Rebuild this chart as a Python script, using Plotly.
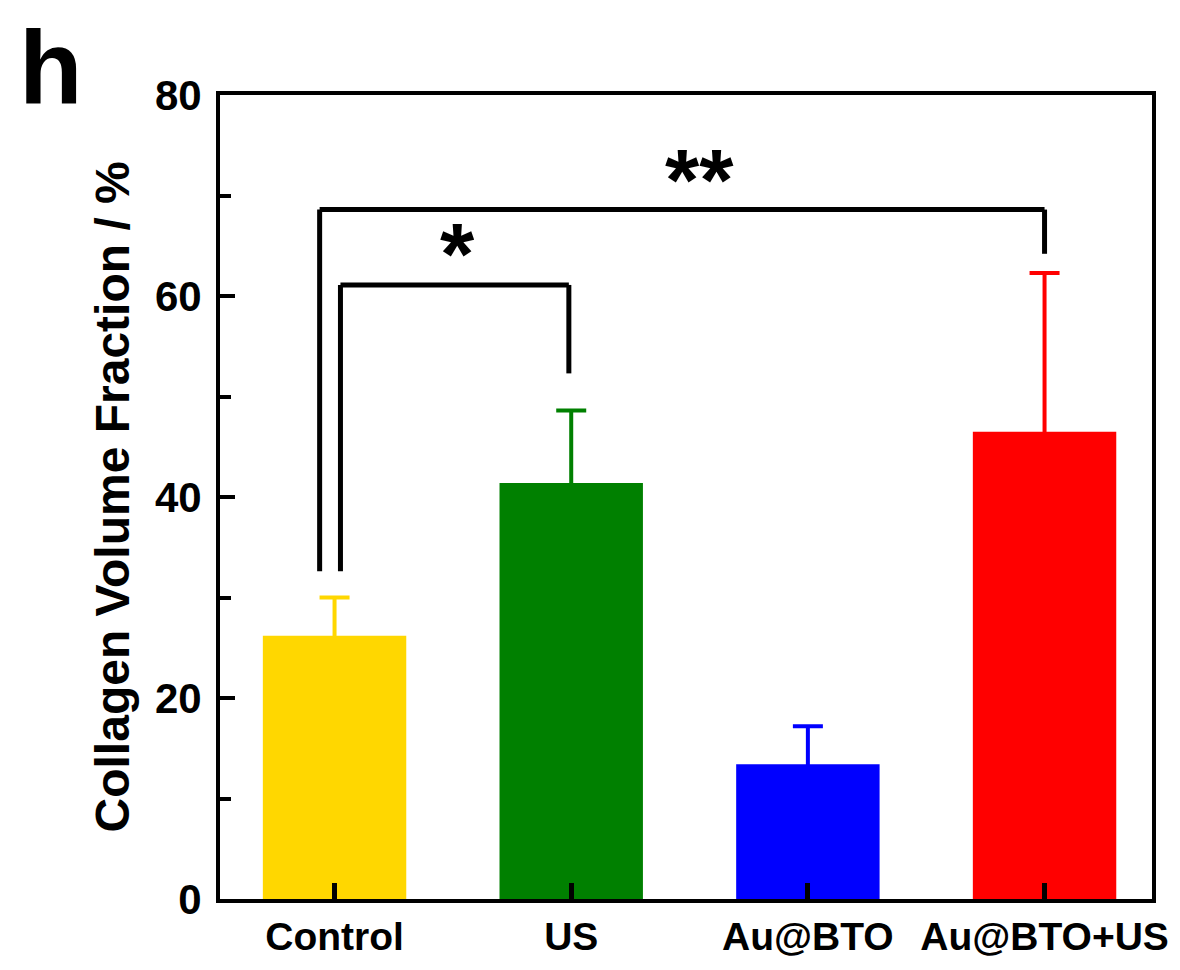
import plotly.graph_objects as go

# ---- data ----
categories = ["Control", "US", "Au@BTO", "Au@BTO+US"]
values = [26.2, 41.4, 13.4, 46.5]
errors = [3.8, 7.2, 3.8, 15.8]
colors = ["#FFD700", "#008000", "#0000FF", "#FF0000"]
y_ticks = [0, 20, 40, 60, 80]

# significance brackets: (left x, right x, left bottom, right bottom, top, label, label x, label y)
brackets = [
    (-0.063, 3.0, 32.6, 64.2, 68.6, "**", 1.54, 71.6),
    (0.025, 0.99, 32.6, 52.3, 61.1, "*", 0.52, 64.2),
]

FONT = "Liberation Sans, Arial, sans-serif"

fig = go.Figure()
for cat, v, e, c in zip(categories, values, errors, colors):
    fig.add_trace(go.Bar(
        x=[cat], y=[v], width=0.606,
        marker=dict(color=c, line=dict(width=0)),
        error_y=dict(type="data", array=[e], symmetric=True,
                     color=c, thickness=4, width=15),
        showlegend=False,
    ))

shapes = []
for (xl, xr, yl, yr, yt, lab, lx, ly) in brackets:
    for (x0, y0, x1, y1) in [(xl, yl, xl, yt), (xl, yt, xr, yt), (xr, yt, xr, yr)]:
        shapes.append(dict(type="line", xref="x", yref="y", x0=x0, y0=y0, x1=x1, y1=y1,
                           line=dict(color="black", width=5)))

annotations = []
for (xl, xr, yl, yr, yt, lab, lx, ly) in brackets:
    annotations.append(dict(x=lx, y=ly, xref="x", yref="y", text=lab, showarrow=False,
                            xanchor="center", yanchor="middle",
                            font=dict(family=FONT, size=88, color="black", weight="bold")))

annotations.append(dict(x=-0.1154, y=0.5, xref="paper", yref="paper",
                        text="Collagen Volume Fraction / %", textangle=-90, showarrow=False,
                        xanchor="center", yanchor="middle",
                        font=dict(family=FONT, size=48, color="black", weight="bold")))
annotations.append(dict(x=-0.1816, y=1.1078, xref="paper", yref="paper",
                        text="h", showarrow=False, xanchor="center", yanchor="top",
                        borderpad=0,
                        font=dict(family=FONT, size=104, color="black", weight="bold")))

fig.update_layout(
    width=1172, height=962,
    margin=dict(l=212, r=24, t=87, b=68),
    paper_bgcolor="white", plot_bgcolor="white",
    barmode="overlay",
    shapes=shapes, annotations=annotations,
    xaxis=dict(
        type="category", categoryorder="array", categoryarray=categories,
        range=[-0.484, 3.454],
        showline=True, linecolor="black", linewidth=4, mirror=True,
        ticks="inside", ticklen=16, tickwidth=5, tickcolor="black",
        showgrid=False, zeroline=False,
        tickfont=dict(family=FONT, size=39, color="black", weight="bold"),
    ),
    yaxis=dict(
        range=[0, 80], tickvals=y_ticks,
        showline=True, linecolor="black", linewidth=4, mirror=True,
        ticks="inside", ticklen=15, tickwidth=4, tickcolor="black",
        minor=dict(ticks="inside", ticklen=11, tickwidth=4, tickcolor="black", dtick=10),
        showgrid=False, zeroline=False,
        tickfont=dict(family=FONT, size=42, color="black", weight="bold"),
        ticklabelstandoff=6,
    ),
)

fig.write_html("out.html")
